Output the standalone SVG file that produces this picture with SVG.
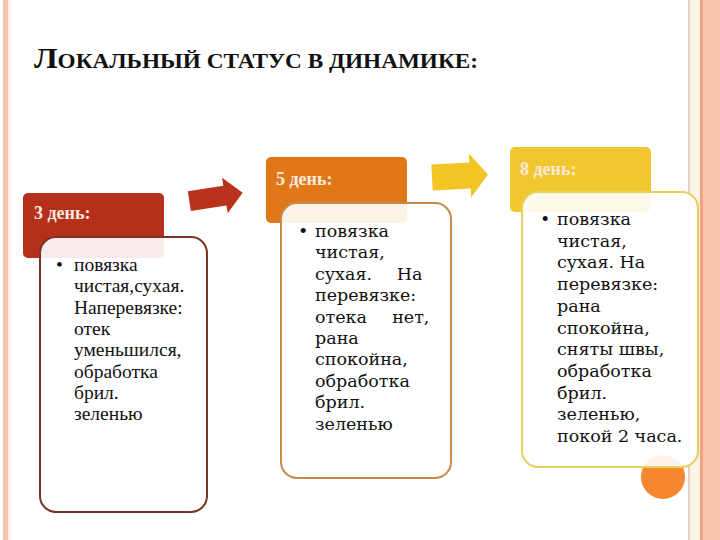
<svg xmlns="http://www.w3.org/2000/svg" width="720" height="540" viewBox="0 0 720 540">
<style>
.title{font-family:"Liberation Serif","Times New Roman",serif;font-weight:bold;fill:#111}
.hdr{font-family:"Liberation Serif","Times New Roman",serif;font-weight:bold;font-size:18px;fill:#fbeadc}
.t1{font-family:"Liberation Serif","Times New Roman",serif;font-size:19.5px;fill:#111}
.t2{font-family:"DejaVu Serif","Liberation Serif",serif;font-size:17.5px;fill:#111}
.card{fill:#fff;fill-opacity:0.9;stroke-width:2}
</style>
<rect width="720" height="540" fill="#fff"/>
<!-- borders -->
<rect x="3" y="0" width="5" height="540" fill="#f5c4ad"/>
<rect x="8" y="0" width="3" height="540" fill="#fdf3ea"/>
<rect x="688" y="0" width="2" height="540" fill="#e6d2c2"/>
<rect x="690" y="0" width="10" height="540" fill="#fdf4e8"/>
<rect x="700" y="0" width="3" height="540" fill="#f2a283"/>
<rect x="703" y="0" width="17" height="540" fill="#fcc3ad"/>

<text class="title" x="34" y="68" textLength="444" lengthAdjust="spacingAndGlyphs"><tspan font-size="30">Л</tspan><tspan font-size="22">ОКАЛЬНЫЙ СТАТУС В ДИНАМИКЕ:</tspan></text>

<g id="connectors">
  <polygon points="-27,-10 9,-10 9,-18 27,0 9,18 9,10 -27,10" fill="#b8321c" transform="translate(216,197) rotate(-9)"/>
  <polygon points="-28,-13 10,-13 10,-22 28,0 10,22 10,13 -28,13" fill="#f2c426" transform="translate(460,176) rotate(-3)"/>
</g>

<circle cx="663" cy="477" r="22" fill="#f5882e"/>

<g id="day3">
  <rect x="23" y="193" width="141" height="65" rx="5" fill="#b5301a"/>
  <text class="hdr" x="34" y="219">3 день:</text>
  <rect class="card" x="40" y="237" width="167" height="275" rx="16" stroke="#7a3424"/>
  <text class="t1" x="56" y="271">•</text>
  <text class="t1">
    <tspan x="74" y="271">повязка</tspan>
    <tspan x="74" y="292.3">чистая,сухая.</tspan>
    <tspan x="74" y="313.6">Наперевязке:</tspan>
    <tspan x="74" y="334.9">отек</tspan>
    <tspan x="74" y="356.2">уменьшился,</tspan>
    <tspan x="74" y="377.5">обработка</tspan>
    <tspan x="74" y="398.8">брил.</tspan>
    <tspan x="74" y="420.1">зеленью</tspan>
  </text>
</g>

<g id="day5">
  <rect x="266" y="157" width="141" height="66" rx="5" fill="#e07818"/>
  <text class="hdr" x="276" y="185">5 день:</text>
  <rect class="card" x="281" y="203" width="170" height="275" rx="16" stroke="#c98a4e"/>
  <text class="t2" x="298" y="237">•</text>
  <text class="t2">
    <tspan x="315" y="237">повязка</tspan>
    <tspan x="315" y="258.4">чистая,</tspan>
    <tspan x="315" y="279.8">сухая.</tspan><tspan x="428" y="279.8" text-anchor="end">На</tspan>
    <tspan x="315" y="301.2">перевязке:</tspan>
    <tspan x="315" y="322.6">отека</tspan><tspan x="435" y="322.6" text-anchor="end">нет,</tspan>
    <tspan x="315" y="344">рана</tspan>
    <tspan x="315" y="365.4">спокойна,</tspan>
    <tspan x="315" y="386.8">обработка</tspan>
    <tspan x="315" y="408.2">брил.</tspan>
    <tspan x="315" y="429.6">зеленью</tspan>
  </text>
</g>

<g id="day8">
  <rect x="510" y="147" width="141" height="65" rx="5" fill="#f1c72f"/>
  <text class="hdr" x="520" y="175">8 день:</text>
  <rect class="card" x="522" y="192" width="176" height="275" rx="16" stroke="#e8d05a"/>
  <text class="t2" x="540" y="225">•</text>
  <text class="t2">
    <tspan x="557" y="225">повязка</tspan>
    <tspan x="557" y="246.7">чистая,</tspan>
    <tspan x="557" y="268.4">сухая. На</tspan>
    <tspan x="557" y="290.1">перевязке:</tspan>
    <tspan x="557" y="311.8">рана</tspan>
    <tspan x="557" y="333.5">спокойна,</tspan>
    <tspan x="557" y="355.2">сняты швы,</tspan>
    <tspan x="557" y="376.9">обработка</tspan>
    <tspan x="557" y="398.6">брил.</tspan>
    <tspan x="557" y="420.3">зеленью,</tspan>
    <tspan x="557" y="442">покой 2 часа.</tspan>
  </text>
</g>
</svg>
